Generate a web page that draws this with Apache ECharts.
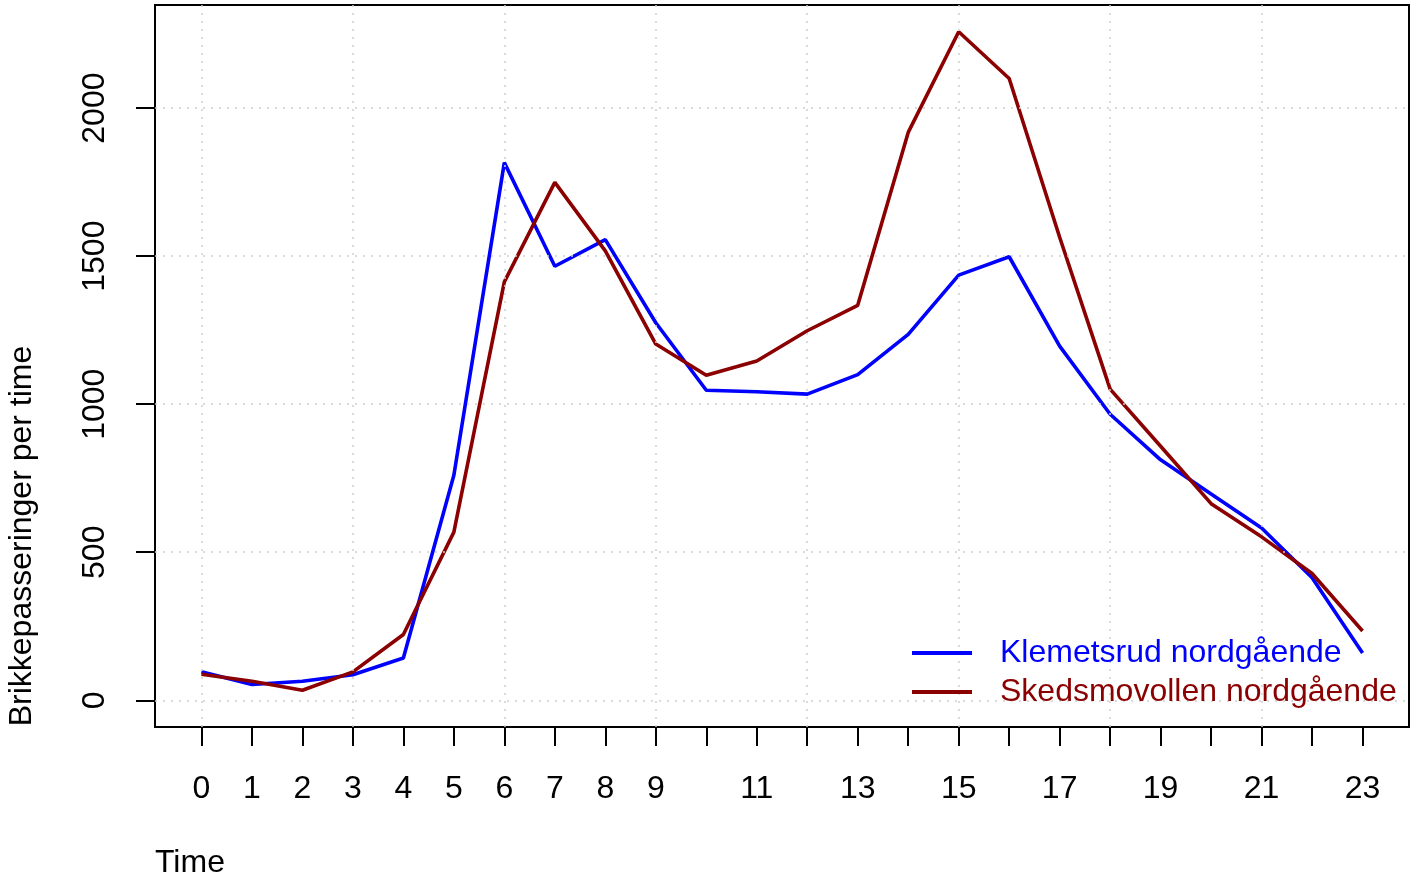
<!DOCTYPE html>
<html>
<head>
<meta charset="utf-8">
<script src="https://cdn.jsdelivr.net/npm/echarts@6/dist/echarts.min.js"></script>
<style>
  html, body { margin: 0; padding: 0; background: #fff; }
  #chart { width: 1416px; height: 882px; }
</style>
</head>
<body>
<div id="chart"></div>
<script>
// ---------- data ----------
var hours = [0, 1, 2, 3, 4, 5, 6, 7, 8, 9, 10, 11, 12, 13, 14, 15, 16, 17, 18, 19, 20, 21, 22, 23];
var klemetsrud = [96, 53, 64, 86, 143, 760, 1816, 1466, 1556, 1275, 1047, 1042, 1034, 1100, 1236, 1436, 1498, 1196, 966, 812, 697, 582, 414, 160];
var skedsmovollen = [88, 64, 34, 96, 222, 568, 1413, 1749, 1518, 1203, 1098, 1146, 1248, 1334, 1918, 2258, 2100, 1564, 1051, 858, 664, 552, 428, 234];
var seriesNames = ['Klemetsrud nordgående', 'Skedsmovollen nordgående'];
var seriesColors = ['#0000FF', '#8B0000'];
var xLabels = [0, 1, 2, 3, 4, 5, 6, 7, 8, 9, 11, 13, 15, 17, 19, 21, 23];
var yTicks = [0, 500, 1000, 1500, 2000];
var xGrid = [0, 3, 6, 9, 12, 15, 18, 21];

var font = '"Liberation Sans", Arial, Helvetica, sans-serif';

function pairs(ys) {
    return hours.map(function (h, i) { return [h, ys[i]]; });
}

var chartDom = document.getElementById('chart');
var myChart = echarts.init(chartDom);

var gridMarks = xGrid.map(function (v) { return { xAxis: v }; })
    .concat(yTicks.map(function (v) { return { yAxis: v }; }));

var option = {
    backgroundColor: '#ffffff',
    animation: false,
    grid: {
        left: 155,
        right: 7,
        top: 5,
        bottom: 155,
        show: true,
        borderColor: '#000',
        borderWidth: 2,
        backgroundColor: 'transparent'
    },
    legend: {
        orient: 'vertical',
        left: 912,
        top: 637,
        z: 10,
        padding: 0,
        itemGap: 7,
        itemWidth: 83,
        itemHeight: 4,
        // 60px line, then empty space so the text starts at 1000px
        icon: 'path://M0,0L60,0L60,4L0,4Z M83,0L83.01,0L83.01,4L83,4Z',
        textStyle: { fontFamily: font, fontSize: 32 },
        data: [
            { name: seriesNames[0], textStyle: { color: seriesColors[0] } },
            { name: seriesNames[1], textStyle: { color: seriesColors[1] } }
        ]
    },
    xAxis: {
        type: 'value',
        min: -0.92,
        max: 23.92,
        axisLine: { show: false, onZero: false },
        splitLine: { show: false },
        axisTick: {
            show: true,
            inside: false,
            length: 19,
            customValues: hours,
            lineStyle: { color: '#000', width: 2 }
        },
        axisLabel: {
            customValues: xLabels,
            margin: 46,
            color: '#000',
            fontFamily: font,
            fontSize: 32
        }
    },
    yAxis: {
        type: 'value',
        min: -90.3,
        max: 2348.3,
        axisLine: { show: false, onZero: false },
        splitLine: { show: false },
        axisTick: {
            show: true,
            inside: false,
            length: 19,
            customValues: yTicks,
            lineStyle: { color: '#000', width: 2 }
        },
        axisLabel: {
            customValues: yTicks,
            rotate: 90,
            margin: 44,
            color: '#000',
            fontFamily: font,
            fontSize: 32,
            formatter: function (v) { return String(v); }
        }
    },
    graphic: [
        {
            type: 'text',
            x: 22,
            y: 536,
            rotation: Math.PI / 2,
            style: {
                text: 'Brikkepasseringer per time',
                font: '32px ' + font,
                fill: '#000',
                align: 'center',
                verticalAlign: 'middle'
            }
        },
        {
            type: 'text',
            x: 155,
            y: 863,
            style: {
                text: 'Time',
                font: '32px ' + font,
                fill: '#000',
                align: 'left',
                verticalAlign: 'middle'
            }
        }
    ],
    series: [
        {
            name: 'grid',
            type: 'line',
            data: [],
            z: 1,
            silent: true,
            markLine: {
                silent: true,
                symbol: 'none',
                animation: false,
                label: { show: false },
                lineStyle: { type: [2, 6], color: '#cfcfcf', width: 1.5 },
                data: gridMarks
            }
        },
        {
            name: seriesNames[0],
            type: 'line',
            data: pairs(klemetsrud),
            showSymbol: false,
            z: 3,
            color: seriesColors[0],
            lineStyle: { color: seriesColors[0], width: 3.6 }
        },
        {
            name: seriesNames[1],
            type: 'line',
            data: pairs(skedsmovollen),
            showSymbol: false,
            z: 4,
            color: seriesColors[1],
            lineStyle: { color: seriesColors[1], width: 3.6 }
        }
    ]
};

myChart.setOption(option);
</script>
</body>
</html>
